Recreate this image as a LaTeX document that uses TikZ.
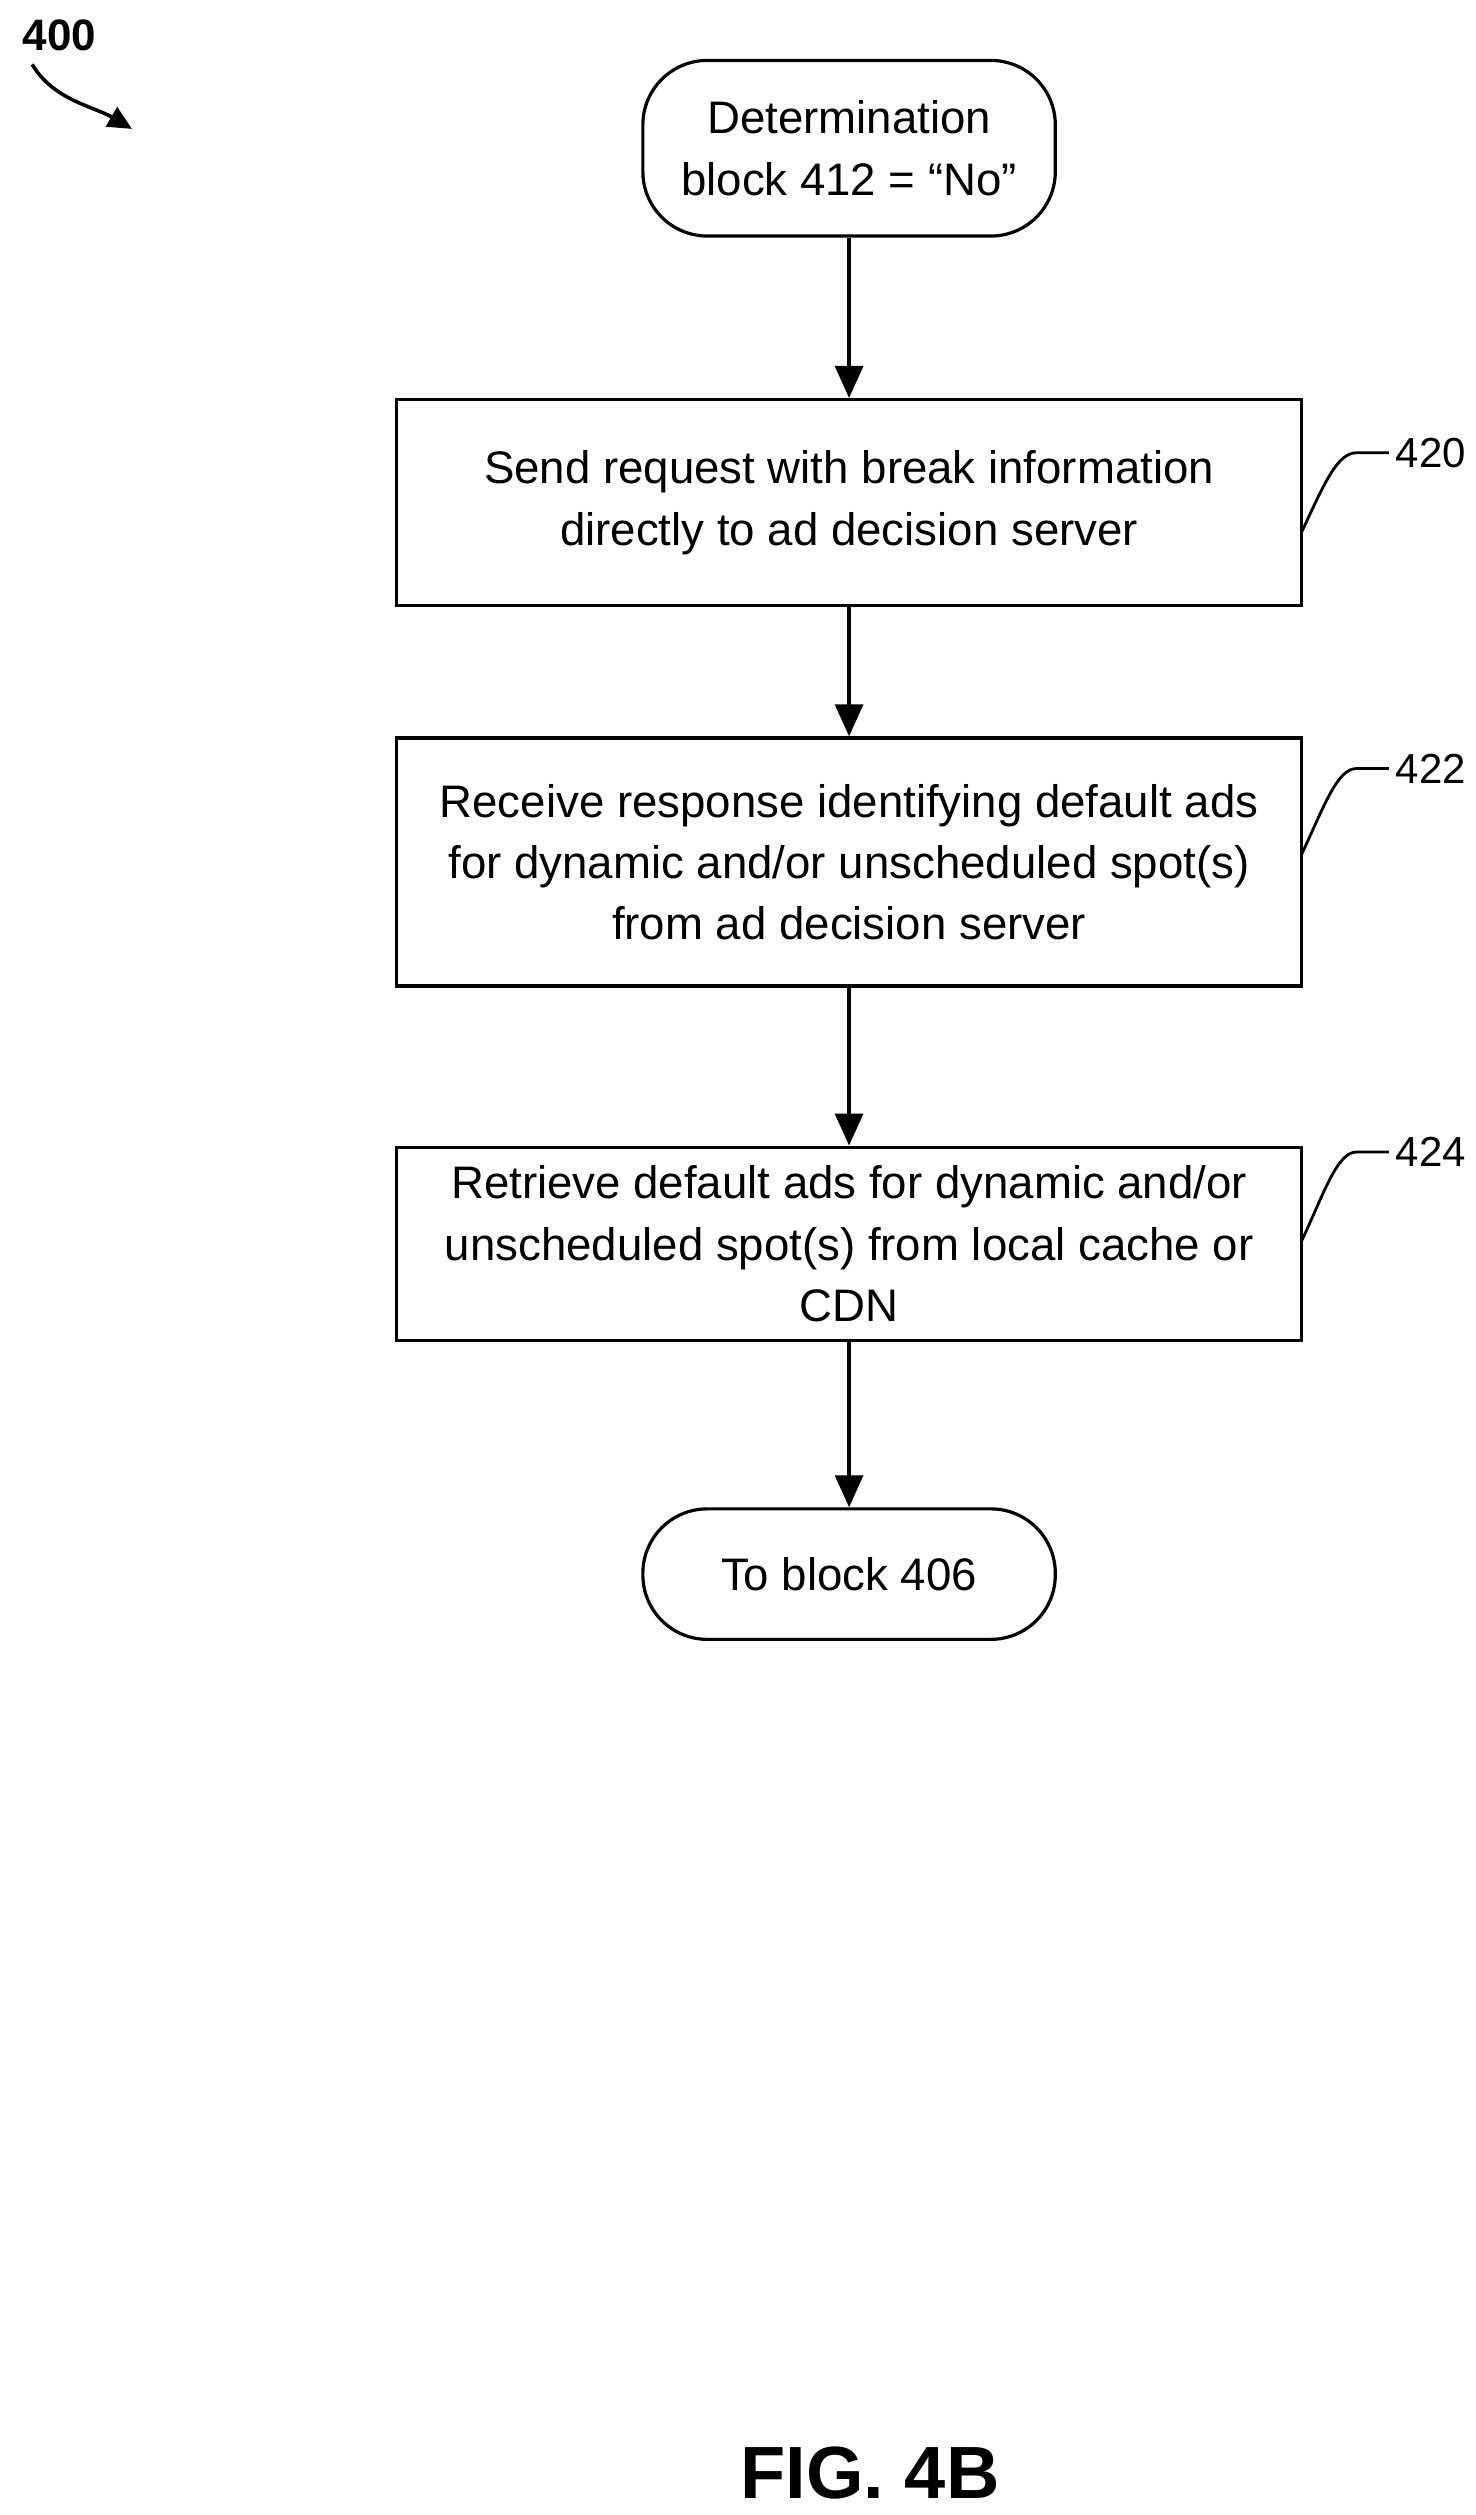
\documentclass[tikz,border=0pt]{standalone}
\usepackage{fontspec}
\setmainfont{Liberation Sans}
\usetikzlibrary{arrows.meta}
\begin{document}
\begin{tikzpicture}[x=0.8056pt,y=-0.8056pt,
  box/.style={draw,line width=1.6pt,minimum width=562*0.8056pt,align=center,font=\fontsize{22.8}{30.6}\selectfont},
  term/.style={box,rounded corners=40*0.8056pt,minimum width=256*0.8056pt},
  arr/.style={line width=1.6pt,-{Triangle[length=16pt,width=14pt]}},
  lbl/.style={font=\fontsize{21}{24}\selectfont},
  lead/.style={line width=1.4pt}]
\useasboundingbox (0,0) rectangle (916,1561);
\node[term,minimum height=109*0.8056pt] (s) at (527,92) {Determination\\block 412 = “No”};
\node[box,minimum height=128*0.8056pt] (b1) at (527,312) {Send request with break information\\directly to ad decision server};
\node[box,minimum height=154*0.8056pt] (b2) at (527,535) {Receive response identifying default ads\\for dynamic and/or unscheduled spot(s)\\from ad decision server};
\node[box,minimum height=120*0.8056pt] (b3) at (527,772) {Retrieve default ads for dynamic and/or\\unscheduled spot(s) from local cache or\\CDN};
\node[term,minimum height=81*0.8056pt] (e) at (527,977) {To block 406};
\draw[arr] (s) -- (b1);
\draw[arr] (b1) -- (b2);
\draw[arr] (b2) -- (b3);
\draw[arr] (b3) -- (e);
\node[lbl,anchor=west] (l1) at (862,281) {420};
\node[lbl,anchor=west] (l2) at (862,477) {422};
\node[lbl,anchor=west] (l3) at (862,715) {424};
\draw[lead] (l1.west) -- (842,281) .. controls (830,281) and (822,300) .. (808,330);
\draw[lead] (l2.west) -- (842,477) .. controls (830,477) and (822,500) .. (808,530);
\draw[lead] (l3.west) -- (842,715) .. controls (830,715) and (822,740) .. (808,770);
\node[font=\bfseries\fontsize{22}{26}\selectfont] (n400) at (37,22) {400};
\coordinate (a400) at (82,80);
\draw[line width=1.8pt,-{Triangle[length=12pt,width=11pt]}] (20,40) .. controls (33,62) and (58,66) .. (a400);
\node[font=\bfseries\fontsize{37}{42}\selectfont] (fig) at (540,1535) {FIG. 4B};
\end{tikzpicture}
\end{document}
